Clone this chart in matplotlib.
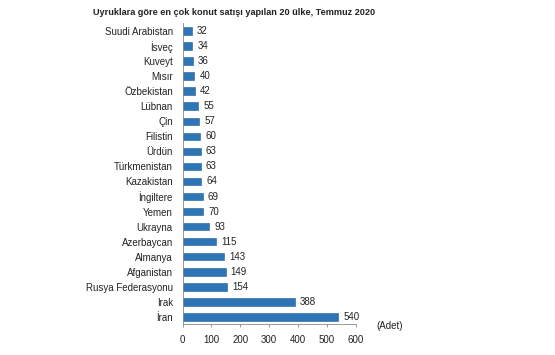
import matplotlib
matplotlib.use("Agg")
from matplotlib import pyplot as plt

ulkeler = ["Suudi Arabistan", "İsveç", "Kuveyt", "Mısır", "Özbekistan", "Lübnan",
           "Çin", "Filistin", "Ürdün", "Türkmenistan", "Kazakistan", "İngiltere",
           "Yemen", "Ukrayna", "Azerbaycan", "Almanya", "Afganistan",
           "Rusya Federasyonu", "Irak", "İran"]
satislar = [32, 34, 36, 40, 42, 55, 57, 60, 63, 63, 64, 69, 70, 93, 115, 143, 149, 154, 388, 540]
x_ticks = [0, 100, 200, 300, 400, 500, 600]

plt.rcParams['font.family'] = ['Liberation Sans Narrow', 'Liberation Sans', 'DejaVu Sans']

fig = plt.figure(figsize=(5.55, 3.55), dpi=100)
ax = fig.add_axes([0.329, 0.086, 0.312, 0.848])

y = list(range(len(ulkeler)))[::-1]
ax.barh(y, satislar, height=0.5, color="#2E75B6", edgecolor="#1F5F9A", linewidth=0.4)
for yi, v in zip(y, satislar):
    ax.text(v + 18, yi, str(v), va="center", ha="left", fontsize=7, color="#222222")

ax.set_yticks(y)
ax.set_yticklabels(ulkeler, fontsize=7, color="#222222")
ax.set_ylim(-0.5, len(ulkeler) - 0.5)
ax.set_xlim(0, 600)
ax.set_xticks(x_ticks)
ax.set_xticklabels([str(t) for t in x_ticks], fontsize=7, color="#222222")

for s in ["top", "right"]:
    ax.spines[s].set_visible(False)
ax.spines["left"].set_color("#888888")
ax.spines["bottom"].set_color("#888888")
ax.spines["left"].set_linewidth(0.6)
ax.spines["bottom"].set_linewidth(0.6)
ax.tick_params(axis="y", length=0, pad=7)
ax.tick_params(axis="x", length=2.5, color="#888888", width=0.6, pad=5)

fig.text(0.421, 0.966, "Uyruklara göre en çok konut satışı yapılan 20 ülke, Temmuz 2020",
         ha="center", va="center", fontsize=6.6, fontweight="bold", color="#222222")
fig.text(0.678, 0.083, "(Adet)", ha="left", va="center", fontsize=7, color="#222222")

fig.savefig("out.png", dpi=100)
